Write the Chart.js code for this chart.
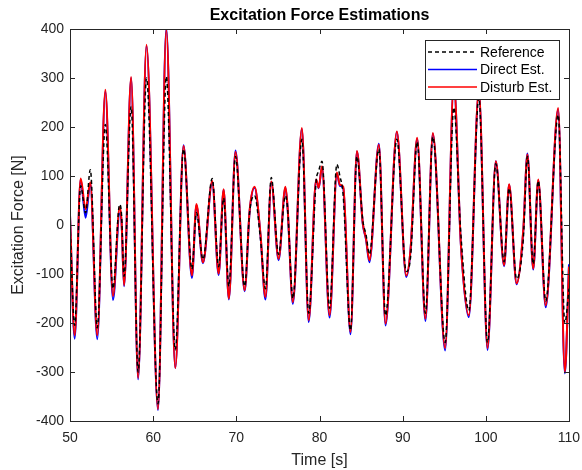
<!DOCTYPE html>
<html>
<head>
<meta charset="utf-8">
<script src="https://cdn.jsdelivr.net/npm/chart.js@4.4.1/dist/chart.umd.min.js"></script>
<style>
  html, body { margin: 0; padding: 0; background: #fff; }
</style>
</head>
<body>
<canvas id="grafica" width="582" height="470"></canvas>
<script>
// tiempos [s] de los picos y valles
var tiempos = [50.0, 50.56, 51.28, 51.88, 52.44, 53.28, 54.25, 55.17, 55.97, 56.2, 56.5, 57.35, 58.19, 59.2, 60.58,
    61.58, 62.66, 63.65, 64.66, 65.2, 65.99, 67.1, 67.87, 68.47, 69.1, 69.9, 71.0, 71.6, 72.19, 72.9, 73.5,
    74.2, 75.08, 75.9, 76.15, 76.8, 77.88, 78.7, 79.6, 79.9, 80.3, 81.21, 82.09, 82.45, 82.85, 83.73, 84.5,
    85.2, 85.6, 86.0, 87.14, 87.94, 89.3, 90.43, 90.95, 91.74, 92.74, 93.63, 95.11, 96.15, 97.0, 97.96,
    99.16, 100.2, 101.2, 102.2, 102.8, 103.7, 104.5, 105.0, 105.7, 106.3, 107.2, 108.7, 109.5, 110.0];

var fuerzaReferencia = [0, -205, 80, 25, 113, -210, 205, -130, 42, 20, -105, 242, -300, 300, -365,
    303, -255, 155, -90, 25, -70, 95, -85, 55, -125, 140, -125, 26, 60, -28, -130,
    97, -60, 60, 36, -150, 175, -180, 90, 110, 130, -170, 124, 100, 60, -215, 140,
    10, -20, -60, 155, -185, 175, -95, -65, 170, -180, 180, -240, 240, -20, -175,
    260, -240, 125, -75, 75, -110, -30, 140, -80, 90, -155, 225, -200, -130];

var fuerzaDirecta = [20, -232, 93, 15, 85, -233, 272, -153, 24, 5, -125, 300, -315, 366, -378,
    402, -292, 163, -108, 40, -78, 88, -102, 72, -152, 152, -135, 28, 76, -20, -152,
    88, -72, 76, 38, -161, 196, -198, 92, 75, 118, -189, 105, 80, 75, -223, 150,
    3, -30, -76, 166, -205, 190, -106, -50, 176, -196, 186, -256, 288, -40, -188,
    273, -255, 130, -84, 82, -121, -13, 146, -91, 91, -168, 236, -303, -80];

var fuerzaPerturbacion = [20, -225, 95, 32, 87, -225, 276, -145, 36, 8, -123, 302, -312, 368, -376,
    398, -292, 161, -103, 43, -76, 90, -99, 73, -150, 149, -133, 30, 78, -18, -147,
    89, -69, 78, 40, -157, 198, -194, 93, 76, 120, -184, 107, 82, 78, -218, 151,
    5, -28, -72, 164, -201, 191, -103, -49, 178, -191, 188, -251, 290, -39, -184,
    275, -251, 130, -82, 83, -119, -11, 144, -89, 93, -164, 239, -299, -85];

var ticksX = [50, 60, 70, 80, 90, 100, 110];
var ticksY = [-400, -300, -200, -100, 0, 100, 200, 300, 400];

var fuente = '"Liberation Sans", Arial, Helvetica, sans-serif';
var colorEje = '#262626';

function puntos(valores) {
    return tiempos.map(function (t, i) { return { x: t, y: valores[i] }; });
}

// caja, marcas hacia dentro, titulo y leyenda al estilo MATLAB
var estiloMatlab = {
    id: 'estiloMatlab',
    afterDraw: function (chart) {
        var ctx = chart.ctx;
        var a = chart.chartArea;
        var sx = chart.scales.x, sy = chart.scales.y;
        ctx.save();
        ctx.strokeStyle = colorEje;
        ctx.lineWidth = 1;
        ctx.beginPath();
        ticksX.forEach(function (v) {
            var px = Math.round(sx.getPixelForValue(v)) + 0.5;
            ctx.moveTo(px, a.bottom); ctx.lineTo(px, a.bottom - 5);
            ctx.moveTo(px, a.top); ctx.lineTo(px, a.top + 5);
        });
        ticksY.forEach(function (v) {
            var py = Math.round(sy.getPixelForValue(v)) + 0.5;
            ctx.moveTo(a.left, py); ctx.lineTo(a.left + 5, py);
            ctx.moveTo(a.right, py); ctx.lineTo(a.right - 5, py);
        });
        ctx.stroke();
        ctx.strokeRect(Math.round(a.left) + 0.5, Math.round(a.top) + 0.5,
            Math.round(a.right - a.left), Math.round(a.bottom - a.top));

        // titulo
        ctx.fillStyle = '#000';
        ctx.font = 'bold 16px ' + fuente;
        ctx.textAlign = 'center';
        ctx.textBaseline = 'middle';
        ctx.fillText('Excitation Force Estimations', (a.left + a.right) / 2, 16);

        // leyenda
        var lx = 425, ly = 40, lw = 134, lh = 59;
        ctx.fillStyle = '#fff';
        ctx.fillRect(lx, ly, lw, lh);
        ctx.strokeStyle = colorEje;
        ctx.strokeRect(lx + 0.5, ly + 0.5, lw, lh);
        var items = [
            { txt: 'Reference', color: '#000', dash: [4, 3], y: 52 },
            { txt: 'Direct Est.', color: '#0000ff', dash: [], y: 69.5 },
            { txt: 'Disturb Est.', color: '#ff0000', dash: [], y: 87 }
        ];
        ctx.font = '14px ' + fuente;
        ctx.textAlign = 'left';
        items.forEach(function (it) {
            ctx.beginPath();
            ctx.setLineDash(it.dash);
            ctx.strokeStyle = it.color;
            ctx.lineWidth = 1.5;
            ctx.moveTo(428, it.y); ctx.lineTo(477, it.y);
            ctx.stroke();
            ctx.setLineDash([]);
            ctx.fillStyle = '#000';
            ctx.fillText(it.txt, 480, it.y + 1);
        });
        ctx.restore();
    }
};

var gx = document.getElementById('grafica').getContext('2d');
var grafica = new Chart(gx, {
    type: 'line',
    data: {
        datasets: [{
            label: 'Reference',
            data: puntos(fuerzaReferencia),
            borderColor: '#000000',
            borderWidth: 1.5,
            borderDash: [4, 3],
            order: 0
        }, {
            label: 'Direct Est.',
            data: puntos(fuerzaDirecta),
            borderColor: '#0000ff',
            borderWidth: 2,
            order: 2
        }, {
            label: 'Disturb Est.',
            data: puntos(fuerzaPerturbacion),
            borderColor: '#ff0000',
            borderWidth: 2,
            order: 1
        }]
    },
    options: {
        responsive: false,
        animation: false,
        events: [],
        elements: {
            point: { radius: 0 },
            line: { cubicInterpolationMode: 'monotone', fill: false }
        },
        layout: { padding: { top: 29, right: 13, left: 0, bottom: 0 } },
        plugins: {
            legend: { display: false },
            title: { display: false },
            tooltip: { enabled: false }
        },
        scales: {
            x: {
                type: 'linear',
                min: 50,
                max: 110,
                afterBuildTicks: function (s) { s.ticks = ticksX.map(function (v) { return { value: v }; }); },
                afterFit: function (s) { s.height = 49; s.paddingLeft = 0; s.paddingRight = 0; },
                grid: { display: false, drawTicks: false },
                border: { display: false },
                ticks: { color: colorEje, font: { family: fuente, size: 14 }, padding: 9, maxRotation: 0 },
                title: { display: true, text: 'Time [s]', color: colorEje, font: { family: fuente, size: 16 }, padding: { top: 0, bottom: 0 } }
            },
            y: {
                min: -400,
                max: 400,
                afterBuildTicks: function (s) { s.ticks = ticksY.map(function (v) { return { value: v }; }); },
                afterFit: function (s) { s.width = 70; },
                grid: { display: false, drawTicks: false },
                border: { display: false },
                ticks: { color: colorEje, font: { family: fuente, size: 14 }, padding: 6 },
                title: { display: true, text: 'Excitation Force [N]', color: colorEje, font: { family: fuente, size: 16 }, padding: { top: 9, bottom: 0 } }
            }
        }
    },
    plugins: [estiloMatlab]
});
</script>
</body>
</html>
